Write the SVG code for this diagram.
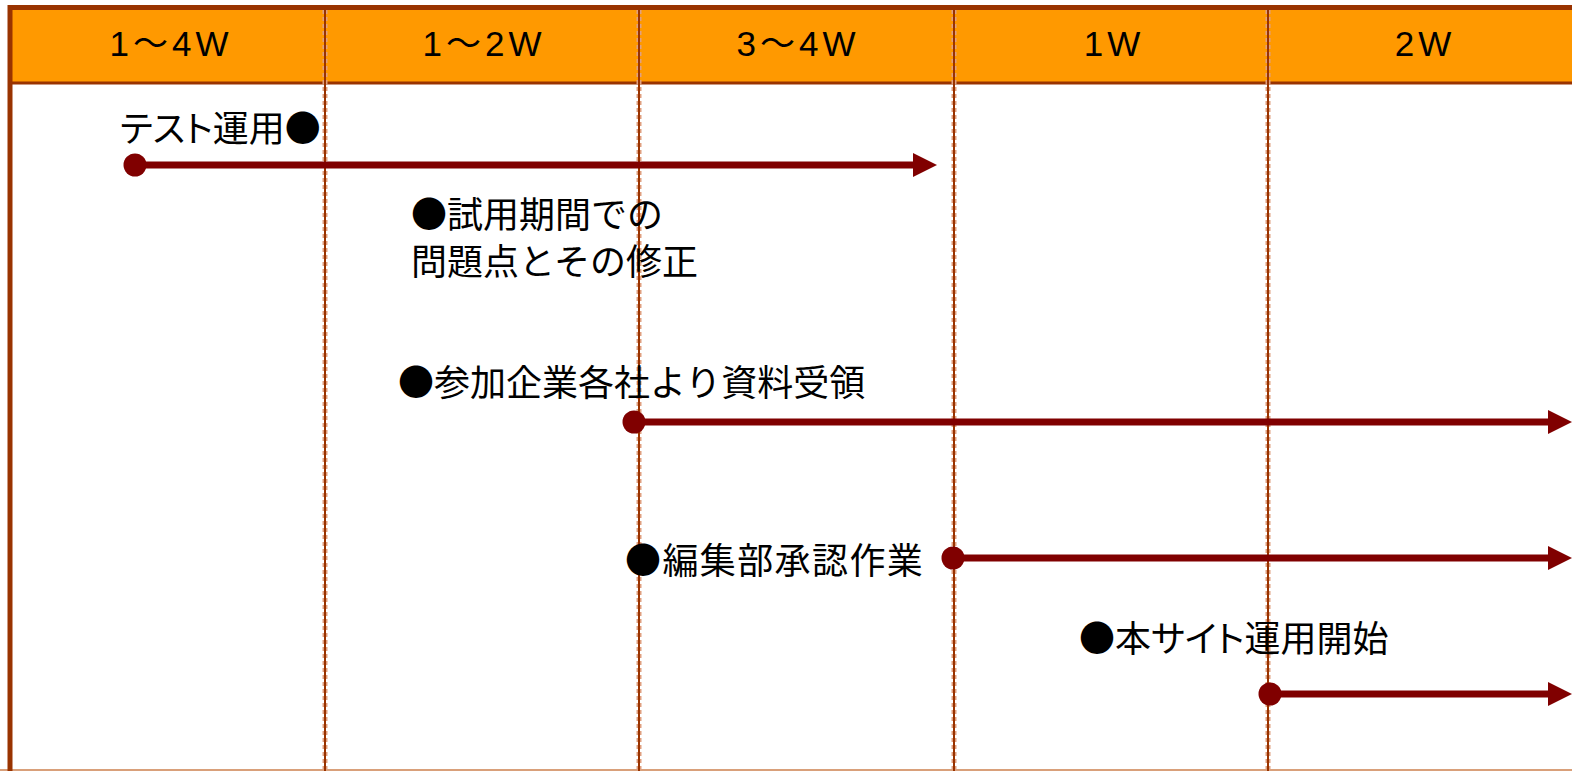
<svg xmlns="http://www.w3.org/2000/svg" width="1572" height="771" viewBox="0 0 1572 771">
<style>
.hdr{font-family:"Liberation Sans","Noto Sans CJK JP",sans-serif;font-size:35px;fill:#000;text-anchor:middle;letter-spacing:4px}
.lbl{font-family:"Noto Sans CJK JP","Liberation Sans",sans-serif;font-size:36px;fill:#000}
.prop{font-feature-settings:"palt" 1}
.div{stroke:#993300;stroke-width:2}
.divh{stroke:#E0A080;stroke-width:5;stroke-dasharray:4 3}
.bar{stroke:#800000;stroke-width:7;fill:none}
.dot{fill:#800000}
</style>
<defs>
<marker id="ah" markerUnits="userSpaceOnUse" markerWidth="26" markerHeight="26" refX="1" refY="12" orient="auto">
<path d="M0,0 L24,12 L0,24 Z" fill="#800000"/>
</marker>
</defs>
<rect x="0" y="0" width="1572" height="771" fill="#fff"/>
<g id="header">
<rect x="10" y="8" width="1562" height="75" fill="#FF9900"/>
<line x1="8" y1="7.5" x2="1572" y2="7.5" stroke="#993300" stroke-width="5"/>
<line x1="10" y1="83" x2="1572" y2="83" stroke="#993300" stroke-width="3"/>
<text class="hdr" x="171" y="56">1～4W</text>
<text class="hdr" x="484" y="56">1～2W</text>
<text class="hdr" x="798" y="56">3～4W</text>
<text class="hdr" x="1114" y="56">1W</text>
<text class="hdr" x="1425" y="56">2W</text>
</g>
<g id="grid">
<line x1="0" y1="770" x2="1572" y2="770" stroke="#D9A07A" stroke-width="2"/>
<line class="divh" x1="325" y1="10" x2="325" y2="771"/>
<line class="divh" x1="639" y1="10" x2="639" y2="771"/>
<line class="divh" x1="954" y1="10" x2="954" y2="771"/>
<line class="divh" x1="1268" y1="10" x2="1268" y2="771"/>
<line class="div" x1="325" y1="10" x2="325" y2="771"/>
<line class="div" x1="639" y1="10" x2="639" y2="771"/>
<line class="div" x1="954" y1="10" x2="954" y2="771"/>
<line class="div" x1="1268" y1="10" x2="1268" y2="771"/>
<line x1="10" y1="5" x2="10" y2="771" stroke="#993300" stroke-width="5"/>
</g>
<g id="connectors">
<line class="bar" x1="135" y1="165" x2="914" y2="165" marker-end="url(#ah)"/>
<circle class="dot" cx="135" cy="165" r="11.5"/>
<line class="bar" x1="634" y1="422" x2="1549" y2="422" marker-end="url(#ah)"/>
<circle class="dot" cx="634" cy="422" r="11.5"/>
<line class="bar" x1="953" y1="558" x2="1549" y2="558" marker-end="url(#ah)"/>
<circle class="dot" cx="953" cy="558" r="11.5"/>
<line class="bar" x1="1270" y1="694" x2="1549" y2="694" marker-end="url(#ah)"/>
<circle class="dot" cx="1270" cy="694" r="11.5"/>
</g>
<g id="n1"><text class="lbl prop" x="120" y="142">テスト運用●</text></g>
<g id="n2"><text class="lbl" x="411" y="228">●試用期間での</text><text class="lbl" x="411" y="275">問題点とその修正</text></g>
<g id="n3"><text class="lbl" x="398" y="396">●参加企業各社より資料受領</text></g>
<g id="n4"><text class="lbl" x="625" y="574" letter-spacing="1.4">●編集部承認作業</text></g>
<g id="n5"><text class="lbl prop" x="1079" y="652">●本サイト運用開始</text></g>
</svg>
